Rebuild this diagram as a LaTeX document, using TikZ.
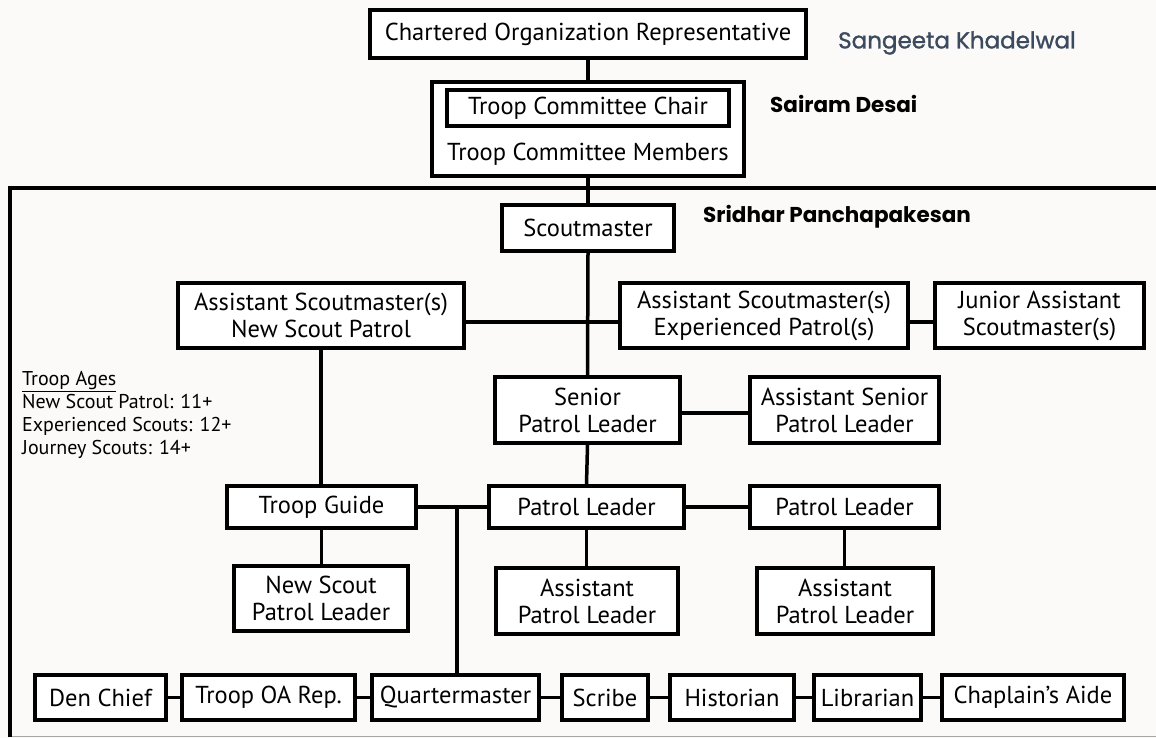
\documentclass[tikz,border=0pt]{standalone}
\usepackage{fontspec}
\setmainfont{PT Sans}
\newfontfamily\namefont{Poppins}
\newfontfamily\namefontm[FakeBold=1.2]{Poppins}
\definecolor{bgc}{HTML}{FBFAF8}
\definecolor{namec}{HTML}{3B4A5E}
\begin{document}
\begin{tikzpicture}[x=1pt,y=-1pt,
  box/.style={draw=black, line width=4pt, fill=white, align=center, inner sep=0pt, font=\fontsize{24.5}{27}\selectfont},
  conn/.style={line width=3.5pt},
  lbl/.style={font=\namefont\bfseries\fontsize{21.5}{24}\selectfont, anchor=west, inner sep=0pt}]
\fill[bgc] (0,0) rectangle (1156,738);
\useasboundingbox (0,0) rectangle (1156,738);
% frame
\draw[gray!70, line width=1pt] (10,736) -- (1156,736);
\draw[line width=4pt] (10,737) -- (10,188) -- (1160,188);
% top
\node[box, minimum width=436pt, minimum height=48pt] (cor) at (588,34) {Chartered Organization Representative};
\node[box, minimum width=312pt, minimum height=94pt] (com) at (588,129) {};
\node[box, minimum width=282pt, minimum height=36pt] (chair) at (588,108) {Troop Committee Chair};
\node[font=\fontsize{24.5}{27}\selectfont, inner sep=0pt] (members) at (588,154) {Troop Committee Members};
\node[box, minimum width=172pt, minimum height=46pt] (sm) at (588,228) {Scoutmaster};
\node[box, minimum width=286pt, minimum height=65pt] (asmn) at (321,315.5) {Assistant Scoutmaster(s)\\New Scout Patrol};
\node[box, minimum width=288pt, minimum height=65pt] (asme) at (764,315.5) {Assistant Scoutmaster(s)\\Experienced Patrol(s)};
\node[box, minimum width=209pt, minimum height=65pt] (jasm) at (1039.5,315.5) {Junior Assistant\\Scoutmaster(s)};
\node[box, minimum width=185pt, minimum height=66pt] (spl) at (587.5,410) {Senior\\Patrol Leader};
\node[box, minimum width=189pt, minimum height=66pt] (aspl) at (844.5,410) {Assistant Senior\\Patrol Leader};
\node[box, minimum width=189pt, minimum height=42pt] (tg) at (321.5,507) {Troop Guide};
\node[box, minimum width=195pt, minimum height=42pt] (pl) at (586.5,507) {Patrol Leader};
\node[box, minimum width=189pt, minimum height=42pt] (plr) at (844.5,507) {Patrol Leader};
\node[box, minimum width=174pt, minimum height=65pt] (nspl) at (321,598.5) {New Scout\\Patrol Leader};
\node[box, minimum width=182pt, minimum height=66pt] (apl) at (587,601) {Assistant\\Patrol Leader};
\node[box, minimum width=176pt, minimum height=66pt] (aplr) at (845,601) {Assistant\\Patrol Leader};
\node[box, minimum width=131pt, minimum height=45pt] (den) at (100.5,697.5) {Den Chief};
\node[box, minimum width=173pt, minimum height=45pt] (oa) at (268.5,697.5) {Troop OA Rep.};
\node[box, minimum width=167pt, minimum height=45pt] (qm) at (455.5,697.5) {Quartermaster};
\node[box, minimum width=86pt, minimum height=45pt] (scribe) at (605,697.5) {Scribe};
\node[box, minimum width=124pt, minimum height=45pt] (hist) at (732,697.5) {Historian};
\node[box, minimum width=107pt, minimum height=45pt] (lib) at (867.5,697.5) {Librarian};
\node[box, minimum width=182pt, minimum height=45pt] (chap) at (1033,697.5) {Chaplain’s Aide};
% names
\node[anchor=west, inner sep=0pt, text=namec, font=\namefontm\fontsize{23}{26}\selectfont] (n1) at (838,43) {Sangeeta Khadelwal};
\node[lbl] (n2) at (770,104) {Sairam Desai};
\node[lbl] (n3) at (703,217) {Sridhar Panchapakesan};
% troop ages
\node[anchor=north west, align=left, inner sep=0pt, font=\fontsize{20}{23}\selectfont] (ages) at (22,371) {\underline{Troop Ages}\\New Scout Patrol: 11+\\Experienced Scouts: 12+\\Journey Scouts: 14+};
% connectors
\draw[conn] (cor.south) -- (com.north);
\draw[conn] (com.south) -- (sm.north);
\draw[conn] (sm.south) -- (spl.north);
\draw[conn] ([yshift=-6.5pt]asmn.east) -- ([yshift=-6.5pt]asme.west);
\draw[conn] ([yshift=-6.5pt]asme.east) -- ([yshift=-6.5pt]jasm.west);
\draw[conn] (asmn.south) -- (asmn.south |- tg.north);
\draw[conn] ([yshift=-3pt]spl.east) -- ([yshift=-3pt]aspl.west);
\draw[conn] (spl.south) -- (pl.north);
\draw[conn] (tg.east) -- (pl.west);
\draw[conn] (pl.east) -- (plr.west);
\draw[conn] (tg.south) -- (tg.south |- nspl.north);
\draw[conn] (pl.south) -- (pl.south |- apl.north);
\draw[conn] (plr.south) -- (plr.south |- aplr.north);
\coordinate (j) at (457,507);
\draw[conn] (j) -- (j |- qm.north);
\draw[conn] (den.east) -- (oa.west);
\draw[conn] (oa.east) -- (qm.west);
\draw[conn] (qm.east) -- (scribe.west);
\draw[conn] (scribe.east) -- (hist.west);
\draw[conn] (hist.east) -- (lib.west);
\draw[conn] (lib.east) -- (chap.west);
\end{tikzpicture}
\end{document}
